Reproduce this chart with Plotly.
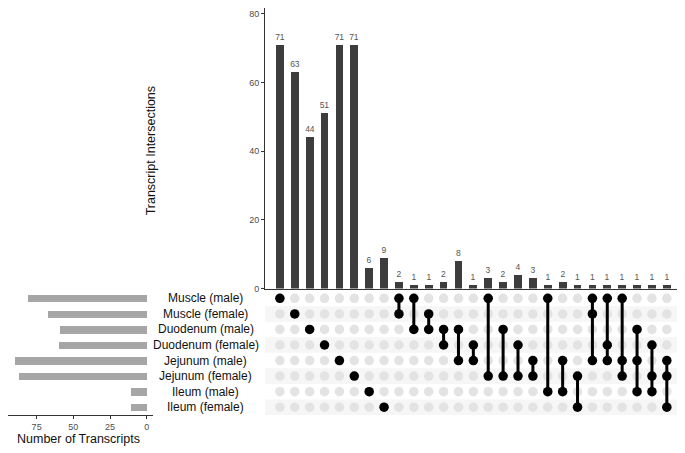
import plotly.graph_objects as go

# ---------------- data ----------------
set_names = ["Muscle (male)", "Muscle (female)", "Duodenum (male)", "Duodenum (female)",
             "Jejunum (male)", "Jejunum (female)", "Ileum (male)", "Ileum (female)"]
set_sizes = [81, 67, 59, 60, 90, 87, 11, 11]

# each intersection: list of member set indices
intersections = [
    [0], [1], [2], [3], [4], [5], [6], [7],
    [0, 1], [0, 2], [1, 2], [2, 3], [2, 4], [3, 4], [0, 5], [2, 5], [3, 5], [4, 5],
    [0, 6], [4, 6], [5, 7],
    [0, 1, 4], [0, 3, 4], [0, 4, 5], [2, 4, 6], [3, 5, 6], [4, 5, 7],
]
intersection_sizes = [71, 63, 44, 51, 71, 71, 6, 9,
                      2, 1, 1, 2, 8, 1, 3, 2, 4, 3,
                      1, 2, 1,
                      1, 1, 1, 1, 1, 1]

# ---------------- layout helpers ----------------
OFF = 8  # default page body margin
W, H = 685 - OFF, 453 - OFF
def px_x(p): return (p - OFF) / W
def px_y(p): return 1 - (p - OFF) / H

FONT = "Liberation Sans, Arial, Helvetica, sans-serif"
cols = list(range(1, len(intersections) + 1))
nrows = len(set_names)

fig = go.Figure()

# top bars
fig.add_trace(go.Bar(
    x=cols, y=intersection_sizes, width=0.52,
    marker=dict(color="#3d3d3d", line=dict(width=0)),
    text=[str(v) for v in intersection_sizes], textposition="outside",
    constraintext="none",
    textfont=dict(size=8.5, color="#555555", family=FONT),
    cliponaxis=False, xaxis="x", yaxis="y", showlegend=False, hoverinfo="x+y",
))

# matrix: background gray dots
bx, by = [], []
for c in cols:
    for r in range(nrows):
        bx.append(c); by.append(r)
fig.add_trace(go.Scatter(
    x=bx, y=by, mode="markers",
    marker=dict(size=9.5, color="#e3e3e3", line=dict(width=0)),
    xaxis="x2", yaxis="y2", showlegend=False, hoverinfo="skip",
))

# connecting lines
lx, ly = [], []
for c, mem in zip(cols, intersections):
    if len(mem) > 1:
        lx += [c, c, None]; ly += [min(mem), max(mem), None]
fig.add_trace(go.Scatter(
    x=lx, y=ly, mode="lines", line=dict(color="#000000", width=3),
    xaxis="x2", yaxis="y2", showlegend=False, hoverinfo="skip",
))

# active dots
ax, ay = [], []
for c, mem in zip(cols, intersections):
    for r in mem:
        ax.append(c); ay.append(r)
fig.add_trace(go.Scatter(
    x=ax, y=ay, mode="markers",
    marker=dict(size=9.5, color="#000000", line=dict(width=0)),
    xaxis="x2", yaxis="y2", showlegend=False, hoverinfo="skip",
))

# set size bars
fig.add_trace(go.Bar(
    x=set_sizes, y=list(range(nrows)), orientation="h", width=0.47,
    marker=dict(color="#a6a6a6", line=dict(width=0)),
    xaxis="x3", yaxis="y3", showlegend=False, hoverinfo="x",
))

# alternating row bands
shapes = []
for r in range(nrows):
    if r % 2 == 1:
        shapes.append(dict(type="rect", xref="x2 domain", yref="y2",
                           x0=0, x1=1, y0=r - 0.5, y1=r + 0.5,
                           fillcolor="#f6f6f6", line=dict(width=0), layer="below"))

annotations = []
for r, name in enumerate(set_names):
    annotations.append(dict(text=name, x=px_x(206), y=r, xref="paper", yref="y2",
                            showarrow=False, xanchor="center", yanchor="middle",
                            font=dict(size=12, color="#111111", family=FONT)))
annotations.append(dict(text="Transcript Intersections", x=px_x(151), y=px_y(153),
                        xref="paper", yref="paper", showarrow=False, textangle=-90,
                        xanchor="center", yanchor="middle",
                        font=dict(size=12.5, color="#111111", family=FONT)))
annotations.append(dict(text="Number of Transcripts", x=px_x(78), y=px_y(444),
                        xref="paper", yref="paper", showarrow=False,
                        xanchor="center", yanchor="middle",
                        font=dict(size=12.5, color="#111111", family=FONT)))

mat_top, mat_bot = 293.8, 419.6
top_top, top_bot = 3.3, 291.7
xl, xr = 265, 681.7

fig.update_layout(
    width=W, height=H, margin=dict(l=0, r=0, t=0, b=0),
    paper_bgcolor="white", plot_bgcolor="rgba(0,0,0,0)",
    font=dict(family=FONT),
    shapes=shapes, annotations=annotations, bargap=0,
    xaxis=dict(domain=[px_x(xl), px_x(xr)], range=[0, 28], showticklabels=False,
               ticks="", showgrid=False, zeroline=False, showline=True,
               linecolor="#333333", linewidth=1, anchor="y"),
    yaxis=dict(domain=[px_y(top_bot), min(1, px_y(top_top))], range=[0, 81.7],
               tickvals=[0, 20, 40, 60, 80], ticks="outside", ticklen=3,
               tickcolor="#333333", showgrid=False, zeroline=False, showline=True,
               linecolor="#333333", linewidth=1,
               tickfont=dict(size=9, color="#4d4d4d", family=FONT), anchor="x"),
    xaxis2=dict(domain=[px_x(xl), px_x(xr)], range=[0, 28], visible=False, anchor="y2"),
    yaxis2=dict(domain=[px_y(mat_bot), px_y(mat_top)], range=[7.5, -0.5],
                visible=False, anchor="x2"),
    xaxis3=dict(domain=[max(0, px_x(3.3)), px_x(153.3)], range=[94.5, -4.5],
                tickvals=[0, 25, 50, 75], ticks="outside", ticklen=3,
                tickcolor="#333333", showgrid=False, zeroline=False, showline=True,
                linecolor="#333333", linewidth=1,
                tickfont=dict(size=9, color="#4d4d4d", family=FONT), anchor="y3"),
    yaxis3=dict(domain=[px_y(mat_bot), px_y(mat_top)], range=[7.5, -0.5],
                visible=False, anchor="x3"),
)

fig.write_html("out.html")
